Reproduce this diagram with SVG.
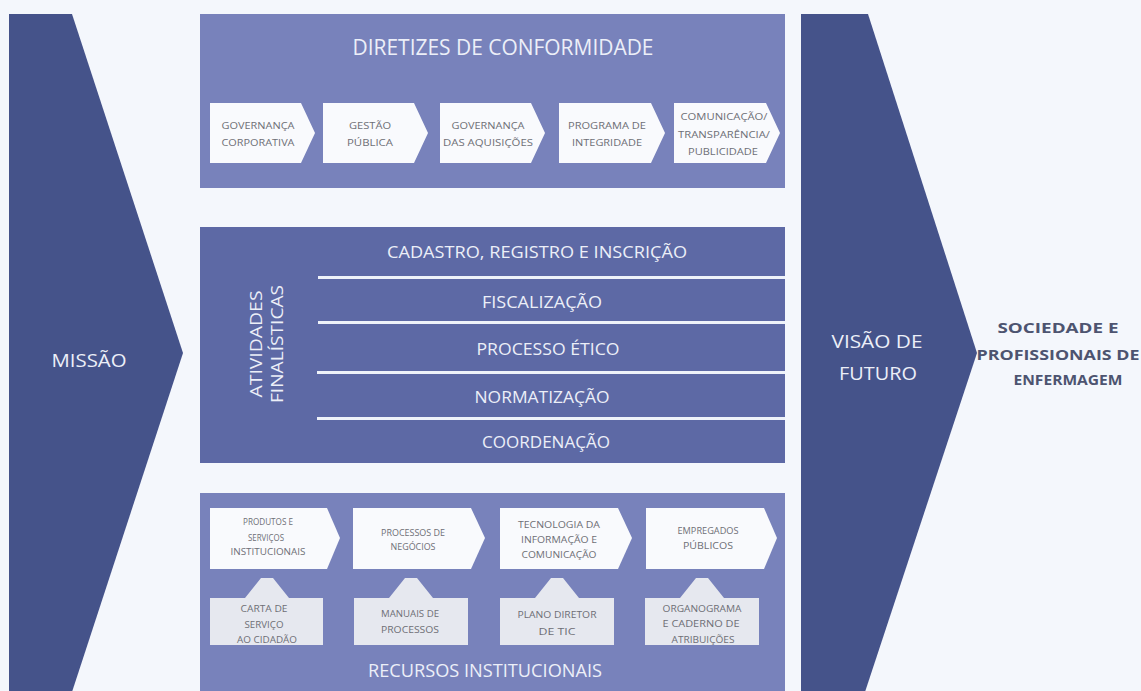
<svg xmlns="http://www.w3.org/2000/svg" width="1141" height="691" viewBox="0 0 1141 691">
<defs>
<style>
.bg{fill:#f4f7fc}
.chev{fill:#45538a}
.light{fill:#7882bb}
.mid{fill:#5d69a5}
.arr{fill:#f9fafd}
.tab{fill:#e6e8ef}
.sep{fill:#eef2f9}
text{font-family:"Open Sans","Noto Sans","Liberation Sans",sans-serif}
.t{fill:#eceff8;text-anchor:middle}
.big{font-size:19px}
.row{font-size:17px}
.s{fill:#6e6f76;font-size:9.5px;text-anchor:middle}
.xs{fill:#6e6f76;font-size:8.5px;text-anchor:middle}
.soc{fill:#4d5470;font-size:14.5px;font-weight:bold;text-anchor:middle}
</style>
</defs>
<rect class="bg" x="0" y="0" width="1141" height="691"/>

<g id="missao">
<polygon class="chev" points="9,14 72,14 183,353 72,692 9,692"/>
<text class="t big" x="89" y="367" textLength="75" lengthAdjust="spacingAndGlyphs">MISSÃO</text>
</g>

<g id="diretrizes">
<rect class="light" x="200" y="14" width="585" height="174"/>
<text class="t" x="503" y="55" font-size="21" textLength="301" lengthAdjust="spacingAndGlyphs">DIRETIZES DE CONFORMIDADE</text>
<g id="d1">
<polygon class="arr" points="210,103 301,103 315,133 301,163 210,163"/>
<text class="s" x="258" y="129" textLength="73" lengthAdjust="spacingAndGlyphs">GOVERNANÇA</text>
<text class="s" x="258" y="146" textLength="73" lengthAdjust="spacingAndGlyphs">CORPORATIVA</text>
</g>
<g id="d2">
<polygon class="arr" points="323,103 414,103 428,133 414,163 323,163"/>
<text class="s" x="370" y="129" textLength="42" lengthAdjust="spacingAndGlyphs">GESTÃO</text>
<text class="s" x="370" y="146" textLength="46" lengthAdjust="spacingAndGlyphs">PÚBLICA</text>
</g>
<g id="d3">
<polygon class="arr" points="440,103 531,103 545,133 531,163 440,163"/>
<text class="s" x="488" y="129" textLength="73" lengthAdjust="spacingAndGlyphs">GOVERNANÇA</text>
<text class="s" x="488" y="146" textLength="90" lengthAdjust="spacingAndGlyphs">DAS AQUISIÇÕES</text>
</g>
<g id="d4">
<polygon class="arr" points="559,103 651,103 665,133 651,163 559,163"/>
<text class="s" x="607" y="129" textLength="78" lengthAdjust="spacingAndGlyphs">PROGRAMA DE</text>
<text class="s" x="607" y="146" textLength="70" lengthAdjust="spacingAndGlyphs">INTEGRIDADE</text>
</g>
<g id="d5">
<polygon class="arr" points="674,103 766,103 780,133 766,163 674,163"/>
<text class="s" x="724" y="120" textLength="87" lengthAdjust="spacingAndGlyphs">COMUNICAÇÃO/</text>
<text class="s" x="724" y="138" textLength="92" lengthAdjust="spacingAndGlyphs">TRANSPARÊNCIA/</text>
<text class="s" x="723" y="155" textLength="70" lengthAdjust="spacingAndGlyphs">PUBLICIDADE</text>
</g>
</g>

<g id="atividades">
<rect class="mid" x="200" y="227" width="585" height="236"/>
<rect class="sep" x="318" y="276" width="467" height="3"/>
<rect class="sep" x="318" y="321" width="467" height="3"/>
<rect class="sep" x="317" y="371" width="468" height="3"/>
<rect class="sep" x="317" y="417" width="468" height="3"/>
<text class="t" transform="translate(262,344) rotate(-90)" font-size="16" textLength="107" lengthAdjust="spacingAndGlyphs">ATIVIDADES</text>
<text class="t" transform="translate(283,344) rotate(-90)" font-size="16" textLength="118" lengthAdjust="spacingAndGlyphs">FINALÍSTICAS</text>
<text class="t row" x="537" y="258" textLength="300" lengthAdjust="spacingAndGlyphs">CADASTRO, REGISTRO E INSCRIÇÃO</text>
<text class="t row" x="542" y="308" textLength="120" lengthAdjust="spacingAndGlyphs">FISCALIZAÇÃO</text>
<text class="t row" x="548" y="355" textLength="143" lengthAdjust="spacingAndGlyphs">PROCESSO ÉTICO</text>
<text class="t row" x="542" y="403" textLength="135" lengthAdjust="spacingAndGlyphs">NORMATIZAÇÃO</text>
<text class="t row" x="546" y="448" textLength="128" lengthAdjust="spacingAndGlyphs">COORDENAÇÃO</text>
</g>

<g id="recursos">
<rect class="light" x="200" y="493" width="585" height="198"/>
<g id="r1">
<polygon class="arr" points="210,508 327,508 340,538 327,569 210,569"/>
<text class="xs" x="268" y="525" textLength="50" lengthAdjust="spacingAndGlyphs">PRODUTOS E</text>
<text class="xs" x="266" y="541" textLength="36" lengthAdjust="spacingAndGlyphs">SERVIÇOS</text>
<text class="xs" x="268" y="555" textLength="75" lengthAdjust="spacingAndGlyphs">INSTITUCIONAIS</text>
</g>
<g id="r2">
<polygon class="arr" points="353,508 471,508 485,538 471,569 353,569"/>
<text class="xs" x="413" y="536" textLength="64" lengthAdjust="spacingAndGlyphs">PROCESSOS DE</text>
<text class="xs" x="413" y="550" textLength="45" lengthAdjust="spacingAndGlyphs">NEGÓCIOS</text>
</g>
<g id="r3">
<polygon class="arr" points="500,508 618,508 632,538 618,569 500,569"/>
<text class="xs" x="559" y="528" textLength="82" lengthAdjust="spacingAndGlyphs">TECNOLOGIA DA</text>
<text class="xs" x="559" y="543" textLength="76" lengthAdjust="spacingAndGlyphs">INFORMAÇÃO E</text>
<text class="xs" x="559" y="558" textLength="75" lengthAdjust="spacingAndGlyphs">COMUNICAÇÃO</text>
</g>
<g id="r4">
<polygon class="arr" points="646,508 764,508 777,538 764,569 646,569"/>
<text class="xs" x="708" y="534" textLength="61" lengthAdjust="spacingAndGlyphs">EMPREGADOS</text>
<text class="xs" x="708" y="549" textLength="50" lengthAdjust="spacingAndGlyphs">PÚBLICOS</text>
</g>
<g id="b1">
<polygon class="tab" points="210,598 245,598 261,578 273,578 289,598 323,598 323,645 210,645"/>
<text class="s" x="264" y="612" textLength="47" lengthAdjust="spacingAndGlyphs">CARTA DE</text>
<text class="s" x="264" y="628" textLength="39" lengthAdjust="spacingAndGlyphs">SERVIÇO</text>
<text class="s" x="267" y="643" textLength="60" lengthAdjust="spacingAndGlyphs">AO CIDADÃO</text>
</g>
<g id="b2">
<polygon class="tab" points="354,598 389,598 405,578 417,578 433,598 468,598 468,645 354,645"/>
<text class="s" x="410" y="617" textLength="58" lengthAdjust="spacingAndGlyphs">MANUAIS DE</text>
<text class="s" x="410" y="633" textLength="58" lengthAdjust="spacingAndGlyphs">PROCESSOS</text>
</g>
<g id="b3">
<polygon class="tab" points="500,598 535,598 551,578 563,578 579,598 614,598 614,645 500,645"/>
<text class="s" x="557" y="618" textLength="79" lengthAdjust="spacingAndGlyphs">PLANO DIRETOR</text>
<text class="s" x="557" y="635" textLength="37" lengthAdjust="spacingAndGlyphs">DE TIC</text>
</g>
<g id="b4">
<polygon class="tab" points="645,598 680,598 696,578 708,578 724,598 759,598 759,645 645,645"/>
<text class="s" x="702" y="612" textLength="79" lengthAdjust="spacingAndGlyphs">ORGANOGRAMA</text>
<text class="s" x="701" y="627" textLength="77" lengthAdjust="spacingAndGlyphs">E CADERNO DE</text>
<text class="s" x="703" y="643" textLength="63" lengthAdjust="spacingAndGlyphs">ATRIBUIÇÕES</text>
</g>
<text class="t" x="485" y="677" font-size="17.5" textLength="234" lengthAdjust="spacingAndGlyphs">RECURSOS INSTITUCIONAIS</text>
</g>

<g id="visao">
<polygon class="chev" points="801,14 868,14 977,353 865,692 801,692"/>
<text class="t big" x="877" y="348" textLength="91" lengthAdjust="spacingAndGlyphs">VISÃO DE</text>
<text class="t big" x="878" y="380" textLength="78" lengthAdjust="spacingAndGlyphs">FUTURO</text>
</g>

<g id="sociedade">
<text class="soc" x="1058" y="333" textLength="121" lengthAdjust="spacingAndGlyphs">SOCIEDADE E</text>
<text class="soc" x="1058" y="360" textLength="163" lengthAdjust="spacingAndGlyphs">PROFISSIONAIS DE</text>
<text class="soc" x="1068" y="385" textLength="109" lengthAdjust="spacingAndGlyphs">ENFERMAGEM</text>
</g>

<g id="connectors"></g>
</svg>
